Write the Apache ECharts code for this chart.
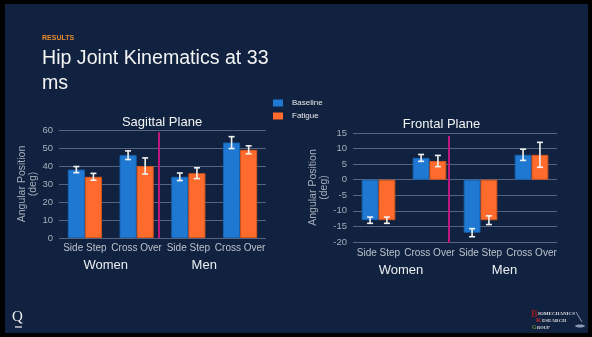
<!DOCTYPE html>
<html>
<head>
<meta charset="utf-8">
<script src="https://cdn.jsdelivr.net/npm/echarts@6/dist/echarts.min.js"></script>
<style>
  html, body { margin: 0; padding: 0; background: #000; }
  #chart { width: 592px; height: 337px; }
</style>
</head>
<body>
<div id="chart"></div>
<script>
// Movement categories and the groups they belong to
const movements = ['Side Step', 'Cross Over', 'Side Step', 'Cross Over'];
const movementGroup = ['Women', 'Women', 'Men', 'Men'];
const groups = ['Women', 'Men'];
const conditions = ['Baseline', 'Fatigue'];

// Sagittal plane hip angle (deg), mean and SD
const sagittalBaseline = [38, 46, 34, 53];
const sagittalBaselineSD = [1.7, 2.4, 2.1, 3.3];
const sagittalFatigue = [34, 40, 36, 49];
const sagittalFatigueSD = [1.9, 4.5, 3.0, 2.2];
const sagittalTicks = [0, 10, 20, 30, 40, 50, 60];

// Frontal plane hip angle (deg), mean and SD
const frontalBaseline = [-13, 7, -17, 8];
const frontalBaselineSD = [1.0, 1.1, 1.3, 1.8];
const frontalFatigue = [-13, 6, -13, 8];
const frontalFatigueSD = [1.0, 1.8, 1.4, 4.0];
const frontalTicks = [-20, -15, -10, -5, 0, 5, 10, 15];

// Women / Men divider extent (axis values)
const sagittalDivider = [58.8, 0];
const frontalDivider = [14, -20.3];

const BLUE = '#1f79d3';
const ORANGE = '#fe6b2c';
const FONT = 'Liberation Sans, Arial, sans-serif';

const categoryKeys = movements.map((m, i) => movementGroup[i] + '|' + m);
const BAR_FRACTION = 0.33;

function errorSeries(xi, yi, means, sds, side) {
  return {
    type: 'custom',
    xAxisIndex: xi,
    yAxisIndex: yi,
    z: 5,
    silent: true,
    data: means.map((v, i) => [i, v, sds[i]]),
    encode: { x: 0, y: 1 },
    renderItem(params, api) {
      const idx = api.value(0);
      const mean = api.value(1);
      const sd = api.value(2);
      const band = api.size([1, 0])[0];
      const cx = api.coord([idx, mean])[0] + side * band * BAR_FRACTION / 2;
      const yTop = api.coord([idx, mean + sd])[1];
      const yBot = api.coord([idx, mean - sd])[1];
      const cap = 3;
      const st = { stroke: '#f2f2f2', lineWidth: 1.6 };
      return {
        type: 'group',
        children: [
          { type: 'line', shape: { x1: cx, y1: yTop, x2: cx, y2: yBot }, style: st },
          { type: 'line', shape: { x1: cx - cap, y1: yTop, x2: cx + cap, y2: yTop }, style: st },
          { type: 'line', shape: { x1: cx - cap, y1: yBot, x2: cx + cap, y2: yBot }, style: st }
        ]
      };
    }
  };
}

function dividerSeries(xi, yi, extent, shift) {
  return {
    type: 'custom',
    xAxisIndex: xi,
    yAxisIndex: yi,
    z: 4,
    silent: true,
    data: [[1, extent[0], extent[1]]],
    encode: { x: 0, y: 1 },
    renderItem(params, api) {
      const band = api.size([1, 0])[0];
      const top = api.coord([api.value(0), api.value(1)]);
      const bot = api.coord([api.value(0), api.value(2)]);
      const x = top[0] + band / 2 + shift;
      return {
        type: 'line',
        shape: { x1: x, y1: top[1], x2: x, y2: bot[1] },
        style: { stroke: '#c0177f', lineWidth: 2 }
      };
    }
  };
}

function barSeries(name, xi, yi, data, color, border) {
  return {
    name: name,
    type: 'bar',
    xAxisIndex: xi,
    yAxisIndex: yi,
    data: data,
    barWidth: (BAR_FRACTION * 100) + '%',
    barGap: '0%',
    itemStyle: { color: color, borderColor: border, borderWidth: 1 },
    emphasis: { disabled: true }
  };
}

function movementAxis(gridIndex, margin) {
  return {
    gridIndex: gridIndex,
    type: 'category',
    data: categoryKeys,
    position: 'bottom',
    axisLine: { show: false, onZero: false },
    axisTick: { show: false },
    axisLabel: {
      margin: margin,
      color: '#bcc2cc',
      fontSize: 10,
      fontFamily: FONT,
      interval: 0,
      formatter: v => v.split('|')[1]
    }
  };
}

function groupAxis(gridIndex, margin, pads) {
  return {
    gridIndex: gridIndex,
    type: 'category',
    data: groups.map((g, i) => ({ value: g, textStyle: { padding: [0, pads[i], 0, 0] } })),
    position: 'bottom',
    axisLine: { show: false, onZero: false },
    axisTick: { show: false },
    axisLabel: { margin: margin, color: '#eceef2', fontSize: 13, fontFamily: FONT, interval: 0 }
  };
}

function valueAxis(gridIndex, ticks, nameGap) {
  return {
    gridIndex: gridIndex,
    type: 'value',
    min: ticks[0],
    max: ticks[ticks.length - 1],
    interval: ticks[1] - ticks[0],
    name: 'Angular Position\n(deg)',
    nameLocation: 'middle',
    nameGap: nameGap,
    nameRotate: 90,
    nameTextStyle: { color: '#a6aebb', fontSize: 10.5, lineHeight: 10.5, fontFamily: FONT },
    axisLine: { show: false },
    axisTick: { show: false },
    axisLabel: { color: '#a6aebb', fontSize: 9.5, margin: 6, fontFamily: FONT },
    splitLine: { lineStyle: { color: '#56657f', width: 1 } }
  };
}

const chart = echarts.init(document.getElementById('chart'), null, { renderer: 'canvas' });

chart.setOption({
  backgroundColor: '#000',
  animation: false,
  textStyle: { fontFamily: FONT },
  graphic: [
    { type: 'rect', z: -10, shape: { x: 5, y: 4, width: 583, height: 329 }, style: { fill: '#10223f' } },
    { type: 'text', x: 42, y: 35, style: { text: 'RESULTS', fill: '#e58a2c', font: 'bold 7px ' + FONT } },
    { type: 'text', x: 42, y: 46, style: { text: 'Hip Joint Kinematics at 33\nms', fill: '#f3f3f3', font: '19.6px ' + FONT, lineHeight: 25 } },
    { type: 'text', x: 162, y: 122, style: { text: 'Sagittal Plane', fill: '#f3f3f3', font: '13px ' + FONT, align: 'center', verticalAlign: 'middle', textAlign: 'center', textVerticalAlign: 'middle' } },
    { type: 'text', x: 441.5, y: 124.5, style: { text: 'Frontal Plane', fill: '#f3f3f3', font: '13px ' + FONT, align: 'center', verticalAlign: 'middle', textAlign: 'center', textVerticalAlign: 'middle' } },
    // footer marks
    { type: 'text', x: 12, y: 310, style: { text: 'Q', fill: '#ececec', font: '15px Liberation Serif, serif' } },
    { type: 'line', shape: { x1: 15, y1: 327, x2: 22, y2: 327 }, style: { stroke: '#c8c8c8', lineWidth: 1.5 } },
    { type: 'text', x: 531, y: 309, style: { text: 'B', fill: '#8e1f1f', font: 'bold 10px Liberation Serif, serif' } },
    { type: 'text', x: 538, y: 311, style: { text: 'IOMECHANICS', fill: '#dcdcdc', font: 'bold 5px Liberation Serif, serif' } },
    { type: 'text', x: 536, y: 317, style: { text: 'R', fill: '#b02a2a', font: 'bold 7px Liberation Serif, serif' } },
    { type: 'text', x: 542, y: 318, style: { text: 'ESEARCH', fill: '#dcdcdc', font: 'bold 5px Liberation Serif, serif' } },
    { type: 'text', x: 532, y: 324, style: { text: 'G', fill: '#6c8f3a', font: 'bold 6px Liberation Serif, serif' } },
    { type: 'text', x: 537, y: 325, style: { text: 'ROUP', fill: '#dcdcdc', font: 'bold 4.5px Liberation Serif, serif' } },
    { type: 'line', shape: { x1: 576, y1: 312, x2: 582, y2: 322 }, style: { stroke: '#8a9bb5', lineWidth: 1 } },
    { type: 'ellipse', shape: { cx: 580, cy: 326, rx: 5, ry: 1.5 }, style: { fill: '#8a9bb5' } }
  ],
  legend: {
    data: conditions,
    orient: 'vertical',
    left: 273,
    top: 99,
    padding: 0,
    itemWidth: 10,
    itemHeight: 7,
    itemGap: 5,
    icon: 'rect',
    selectedMode: false,
    itemStyle: { borderWidth: 0 },
    textStyle: { color: '#e8e8e8', fontSize: 8, fontFamily: FONT, padding: [0, 0, 0, 4] }
  },
  grid: [
    { left: 59, top: 130, width: 207, height: 108 },
    { left: 353, top: 133, width: 204, height: 109 }
  ],
  xAxis: [
    movementAxis(0, 5),
    groupAxis(0, 21, [10, 20]),
    movementAxis(1, 6),
    groupAxis(1, 22, [6, 3])
  ],
  yAxis: [
    valueAxis(0, sagittalTicks, 19.5),
    valueAxis(1, frontalTicks, 24)
  ],
  series: [
    barSeries(conditions[0], 0, 0, sagittalBaseline, BLUE, '#1865b5'),
    barSeries(conditions[1], 0, 0, sagittalFatigue, ORANGE, '#d5561f'),
    barSeries(conditions[0], 2, 1, frontalBaseline, BLUE, '#1865b5'),
    barSeries(conditions[1], 2, 1, frontalFatigue, ORANGE, '#d5561f'),
    errorSeries(0, 0, sagittalBaseline, sagittalBaselineSD, -1),
    errorSeries(0, 0, sagittalFatigue, sagittalFatigueSD, 1),
    errorSeries(2, 1, frontalBaseline, frontalBaselineSD, -1),
    errorSeries(2, 1, frontalFatigue, frontalFatigueSD, 1),
    dividerSeries(0, 0, sagittalDivider, -3.5),
    dividerSeries(2, 1, frontalDivider, -6)
  ]
});
</script>
</body>
</html>
